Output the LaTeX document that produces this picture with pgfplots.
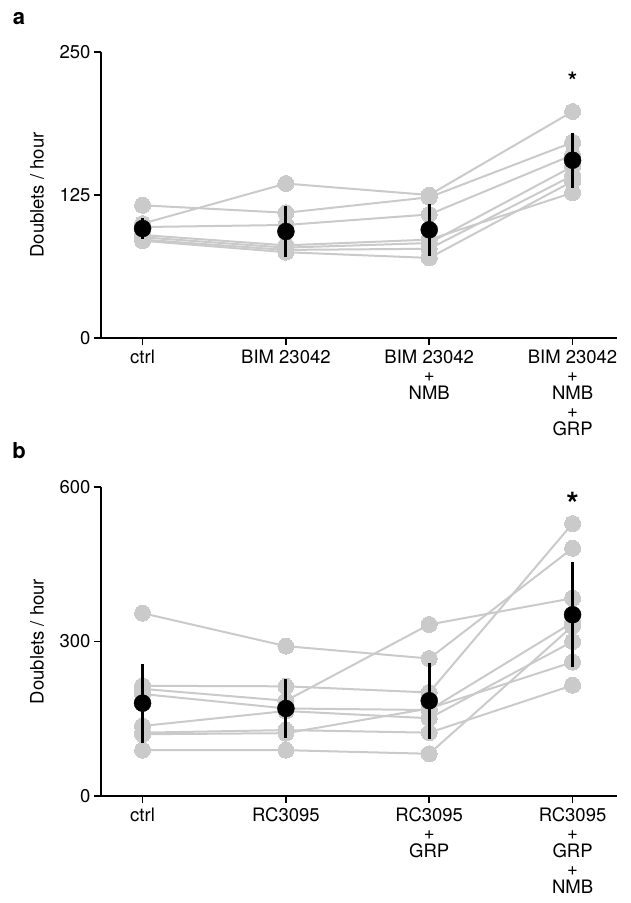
\documentclass[border=0pt]{standalone}
\usepackage{fontspec}
\setmainfont{TeX Gyre Heros}
\usepackage{pgfplots}
\pgfplotsset{compat=1.18}
\definecolor{lg}{RGB}{202,202,202}
\begin{document}
\begin{tikzpicture}
\useasboundingbox (0pt,0pt) rectangle (630pt,-903pt);
\pgfplotsset{
  panel/.style={
    scale only axis, width=516pt,
    axis lines=left, axis line style={-, line width=1.8pt},
    xmin=-0.29, xmax=3.31, ymin=0,
    xtick={0,1,2,3},
    tick align=outside, major tick length=7pt,
    tick style={line width=1.8pt, black},
    /pgf/number format/assume math mode=true,
    tick label style={font=\fontsize{18.5}{18}\selectfont},
    xticklabel style={align=center, yshift=-1pt},
    ylabel={Doublets / hour},
    ylabel style={font=\fontsize{18.5}{20}\selectfont, at={(axis description cs:-0.124,0.5)}, anchor=center},
    clip=false, clip marker paths=true,
  },
  ind/.style={lg, line width=2pt, mark=*, mark size=8pt, mark options={fill=lg, draw=lg, line width=0pt}},
  avg/.style={black, only marks, mark=*, mark size=8.5pt,
    error bars/.cd, y dir=both, y explicit, error bar style={line width=3pt}, error mark=none},
}
\node[font=\bfseries\fontsize{22}{22}\selectfont] at (19pt,-19pt) {a};
\node[font=\bfseries\fontsize{22}{22}\selectfont] at (19pt,-451pt) {b};

% Panel a
\begin{axis}[panel, at={(101pt,-338pt)}, anchor=south west, height=286pt,
  ymax=250, ytick={0,125,250},
  xticklabels={ctrl, BIM 23042, {BIM 23042\\+\\NMB}, {BIM 23042\\+\\NMB\\+\\GRP}}]
\addplot[ind] coordinates {(0,100) (1,135) (2,125) (3,198)};
\addplot[ind] coordinates {(0,116) (1,109.5) (2,123) (3,171)};
\addplot[ind] coordinates {(0,97) (1,98.8) (2,108) (3,160)};
\addplot[ind] coordinates {(0,90) (1,81) (2,86) (3,127)};
\addplot[ind] coordinates {(0,88) (1,79) (2,83) (3,150)};
\addplot[ind] coordinates {(0,86) (1,77) (2,78) (3,142)};
\addplot[ind] coordinates {(0,85) (1,75) (2,70) (3,137)};
\addplot[avg] coordinates {(0,95.7) +- (0,8.8) (1,93.1) +- (0,22) (2,94.6) +- (0,22.7) (3,155.4) +- (0,24)};
\node[font=\bfseries\fontsize{24}{24}\selectfont, anchor=base] at (axis cs:3,217) {*};
\end{axis}

% Panel b
\begin{axis}[panel, at={(101pt,-796pt)}, anchor=south west, height=309pt,
  ymax=600, ytick={0,300,600},
  xticklabels={ctrl, RC3095, {RC3095\\+\\GRP}, {RC3095\\+\\GRP\\+\\NMB}}]
\addplot[ind] coordinates {(0,355) (1,291) (2,267) (3,481)};
\addplot[ind] coordinates {(0,214) (1,213) (2,201) (3,529)};
\addplot[ind] coordinates {(0,208) (1,185) (2,333) (3,384)};
\addplot[ind] coordinates {(0,198) (1,170) (2,167) (3,337)};
\addplot[ind] coordinates {(0,136) (1,165) (2,151) (3,300)};
\addplot[ind] coordinates {(0,123) (1,128) (2,123) (3,215)};
\addplot[ind] coordinates {(0,120) (1,122) (2,170) (3,260)};
\addplot[ind] coordinates {(0,89) (1,89) (2,82) (3,330)};
\addplot[avg] coordinates {(0,180.3) +- (0,77) (1,170) +- (0,57.7) (2,184.9) +- (0,74) (3,352) +- (0,101.5)};
\node[font=\bfseries\fontsize{32}{32}\selectfont, anchor=base] at (axis cs:3,545.6) {*};
\end{axis}
\end{tikzpicture}
\end{document}
